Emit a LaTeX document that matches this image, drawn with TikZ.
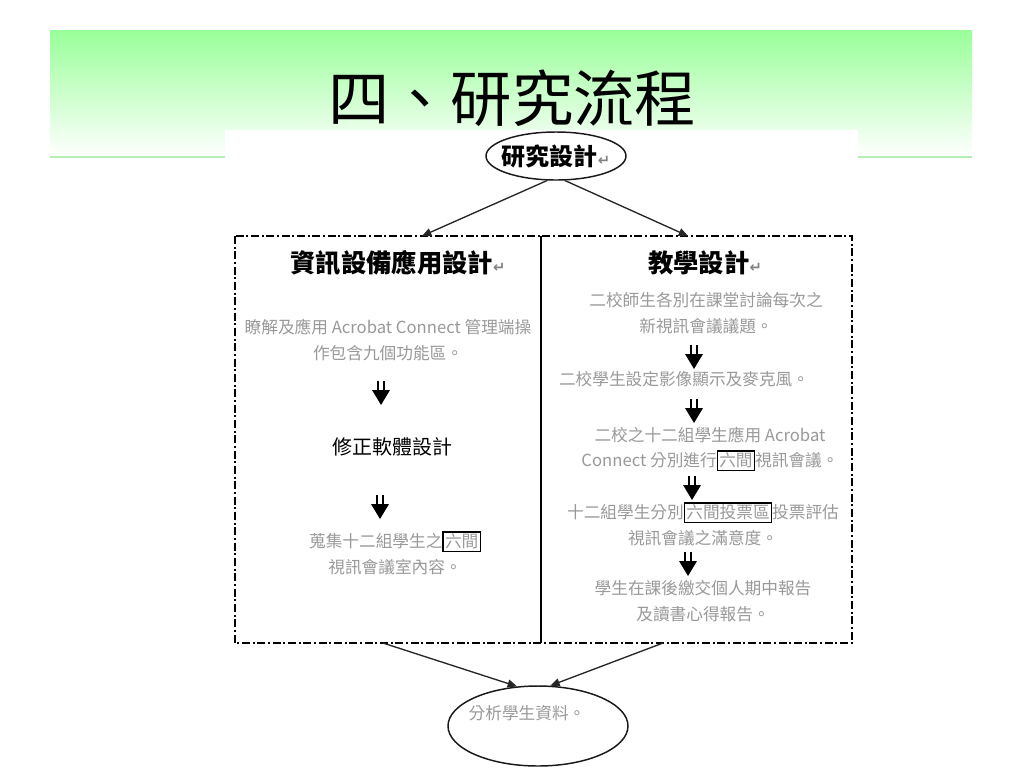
\documentclass[tikz,border=0pt]{standalone}
\usepackage{fontspec}
\newfontfamily\cjk{Noto Sans CJK TC}
\newfontfamily\sym{DejaVu Sans}
\usetikzlibrary{shapes.geometric,arrows.meta}
\definecolor{bandgreen}{HTML}{99FF99}
\definecolor{bandline}{HTML}{B4EEB4}
\definecolor{bodygray}{HTML}{999999}
\setlength{\fboxsep}{1pt}
\setlength{\fboxrule}{0.9pt}
\newcommand{\fatarrow}[2]{ \fill ({#1-9},{#2-3}) -- ({#1+9},{#2-3}) -- (#1,{#2+12}) -- cycle; \draw[line width=1.4pt] ({#1-3},{#2-12}) -- ({#1-3},{#2-3}); \draw[line width=1.4pt] ({#1+3},{#2-12}) -- ({#1+3},{#2-3});}
\newcommand{\six}[1]{\fcolorbox{black}{white}{#1}}
\newcommand{\ret}{{\sym\color{gray}\fontsize{11}{11}\selectfont ↵}}
\tikzset{
  head/.style={font=\cjk\bfseries\fontsize{19}{22}\selectfont, inner sep=0pt},
  body/.style={font=\cjk\fontsize{12.5}{19}\selectfont, text=bodygray, align=center, inner sep=0pt},
  link/.style={draw=black!85, line width=1pt, -{Triangle[length=7pt,width=6pt]}},
  oval/.style={ellipse, draw=black!90, line width=1.1pt, inner sep=0pt},
  frameline/.style={line width=1.5pt, dash pattern=on 6pt off 2pt on 1.5pt off 2pt},
}

\begin{document}
\begin{tikzpicture}[x=0.75pt,y=-0.75pt]
        \useasboundingbox (0,0) rectangle (1024,768);
        % title band
        \shade[top color=bandgreen, bottom color=white] (50,30) rectangle (972,157);
        \draw[bandline, line width=0.8pt] (50,157) -- (972,157);
        \fill[white] (225,130) rectangle (858,768);
        \node[font=\cjk\fontsize{46}{50}\selectfont, inner sep=0pt] (title) at (512,98) {四、研究流程};
        % top and bottom ovals
        \node[oval, minimum width=105pt, minimum height=36pt] (design) at (556,156) {};
        \node[head, font=\cjk\bfseries\fontsize{18}{20}\selectfont] (designtxt) at (556,156) {研究設計\ret};
        \node[oval, minimum width=135pt, minimum height=60pt] (result) at (538,726) {};
        \node[body] (resulttxt) at (527,713) {分析學生資料。};
        % outer frame
        \draw[frameline] (235,236) rectangle (852,643);
        \draw[line width=1.5pt] (541,236) -- (541,643);
        \coordinate (ltop) at (422,236);
        \coordinate (rtop) at (688,236);
        \coordinate (lbot) at (383,643);
        \coordinate (rbot) at (663,643);
        % left column
        \node[head] (lhead) at (398,263) {資訊設備應用設計\ret};
        \node[body] (l1) at (388,340) {瞭解及應用 Acrobat Connect 管理端操\\作包含九個功能區。};
        \fatarrow{381}{393}
        \node[font=\cjk\fontsize{15}{18}\selectfont, inner sep=0pt] (l2) at (392,447) {修正軟體設計};
        \fatarrow{380}{507}
        \node[body] (l3) at (395,553) {蒐集十二組學生之\six{六間}\\視訊會議室內容。};
        % right column
        \node[head] (rhead) at (705,263) {教學設計\ret};
        \node[body] (r1) at (706,313) {二校師生各別在課堂討論每次之\\新視訊會議議題。};
        \fatarrow{694}{357}
        \node[body] (r2) at (684,379) {二校學生設定影像顯示及麥克風。};
        \fatarrow{694}{411}
        \node[body] (r3) at (710,449) {二校之十二組學生應用 Acrobat\\Connect 分別進行\six{六間}視訊會議。};
        \fatarrow{692}{488}
        \node[body] (r4) at (703,524) {十二組學生分別\six{六間投票區}投票評估\\視訊會議之滿意度。};
        \fatarrow{688}{564}
        \node[body] (r5) at (703,601) {學生在課後繳交個人期中報告\\及讀書心得報告。};
        % connectors
        \draw[link] (design.250) -- (ltop);
        \draw[link] (design.290) -- (rtop);
        \draw[link] (lbot) -- (result.118);
        \draw[link] (rbot) -- (result.73);
    \end{tikzpicture}
\end{document}
